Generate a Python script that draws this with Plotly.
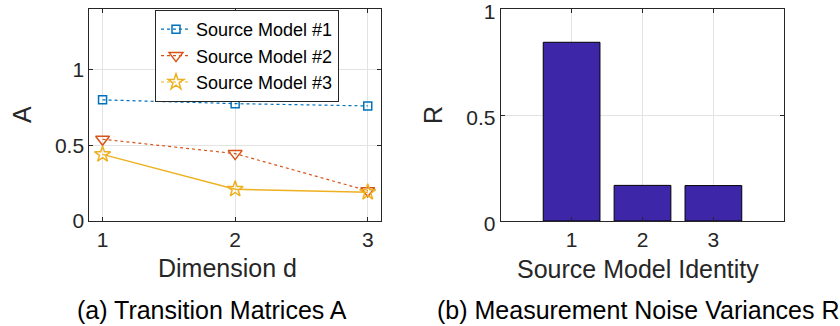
import plotly.graph_objects as go

dims = [1, 2, 3]
src1 = [0.80, 0.775, 0.76]
src2 = [0.54, 0.445, 0.20]
src3 = [0.44, 0.21, 0.19]
names = ["Source Model #1", "Source Model #2", "Source Model #3"]

models = [1, 2, 3]
R_vals = [0.843, 0.168, 0.167]

BLUE = "#0072BD"
ORANGE = "#D95319"
YELLOW = "#EDB120"
BARC = "rgb(62,38,168)"
TXT = "#262626"
FONT = "Liberation Sans, Arial, sans-serif"

fig = go.Figure()
fig.add_trace(go.Scatter(x=dims, y=src1, mode="lines+markers", name=names[0],
                         line=dict(color=BLUE, width=1.2, dash="dot"),
                         marker=dict(symbol="square-open", size=8, color=BLUE, line=dict(width=1.5)),
                         xaxis="x", yaxis="y"))
fig.add_trace(go.Scatter(x=dims, y=src2, mode="lines+markers", name=names[1],
                         line=dict(color=ORANGE, width=1.2, dash="dot"),
                         marker=dict(symbol="triangle-down-open", size=12, color=ORANGE, line=dict(width=1.5)),
                         xaxis="x", yaxis="y"))
# legend proxy for series 3 (dotted in legend)
fig.add_trace(go.Scatter(x=[None], y=[None], mode="lines+markers", name=names[2],
                         line=dict(color=YELLOW, width=1.2, dash="dot"),
                         marker=dict(symbol="star-open", size=12, color=YELLOW, line=dict(width=1.5)),
                         xaxis="x", yaxis="y"))
fig.add_trace(go.Scatter(x=dims, y=src3, mode="lines+markers", name=names[2], showlegend=False,
                         line=dict(color=YELLOW, width=1.5),
                         marker=dict(symbol="star-open", size=12, color=YELLOW, line=dict(width=1.5)),
                         xaxis="x", yaxis="y"))

fig.add_trace(go.Bar(x=models, y=R_vals, width=0.8, showlegend=False,
                     marker=dict(color=BARC, line=dict(color="black", width=1)),
                     xaxis="x2", yaxis="y2"))

W, H = 840, 326
def px(x): return x / W
def py(y): return 1 - y / H

axcommon = dict(showline=True, linecolor=TXT, linewidth=1, mirror="ticks", ticks="inside",
                ticklen=4, tickcolor=TXT, showgrid=True, gridcolor="#e3e3e3", gridwidth=1,
                zeroline=False, automargin=False, ticklabeloverflow="allow",
                tickfont=dict(family=FONT, size=21, color=TXT))

fig.update_layout(
    width=W, height=H, margin=dict(l=0, r=0, t=0, b=0),
    paper_bgcolor="white", plot_bgcolor="white",
    xaxis=dict(domain=[px(89.3), px(381)], range=[0.9, 3.1], tickvals=[1, 2, 3], anchor="y", **axcommon),
    yaxis=dict(domain=[py(221), py(9)], range=[0, 1.4], tickvals=[0, 0.5, 1], ticktext=["0", "0.5", "1"], anchor="x", **axcommon),
    xaxis2=dict(domain=[px(500.7), px(784.3)], range=[0, 4], tickvals=[1, 2, 3], anchor="y2", **axcommon),
    yaxis2=dict(domain=[py(221), py(9)], range=[0, 1], tickvals=[0, 0.5, 1], ticktext=["0", "0.5", "1"],
                anchor="x2", ticklabelshift=3, **axcommon),
    legend=dict(x=px(155), y=py(10), xanchor="left", yanchor="top",
                bordercolor=TXT, borderwidth=1, bgcolor="white",
                font=dict(family=FONT, size=18, color="black"),
                tracegroupgap=0, itemwidth=30),
    showlegend=True,
)

ann = [
    dict(text="A", x=px(22), y=py(115), textangle=-90),
    dict(text="R", x=px(433), y=py(115), textangle=-90),
    dict(text="Dimension d", x=px(227), y=py(268), textangle=0),
    dict(text="Source Model Identity", x=px(638), y=py(269), textangle=0),
    dict(text="(a) Transition Matrices A", x=px(211.7), y=py(310), textangle=0),
    dict(text="(b) Measurement Noise Variances R", x=px(638), y=py(310), textangle=0),
]
for a in ann:
    fig.add_annotation(text=a["text"], x=a["x"], y=a["y"], xref="paper", yref="paper",
                       xanchor="center", yanchor="middle", showarrow=False, textangle=a["textangle"],
                       font=dict(family=FONT, size=25,
                                 color="black" if a["text"].startswith("(") else TXT))

fig.write_html("out.html")
